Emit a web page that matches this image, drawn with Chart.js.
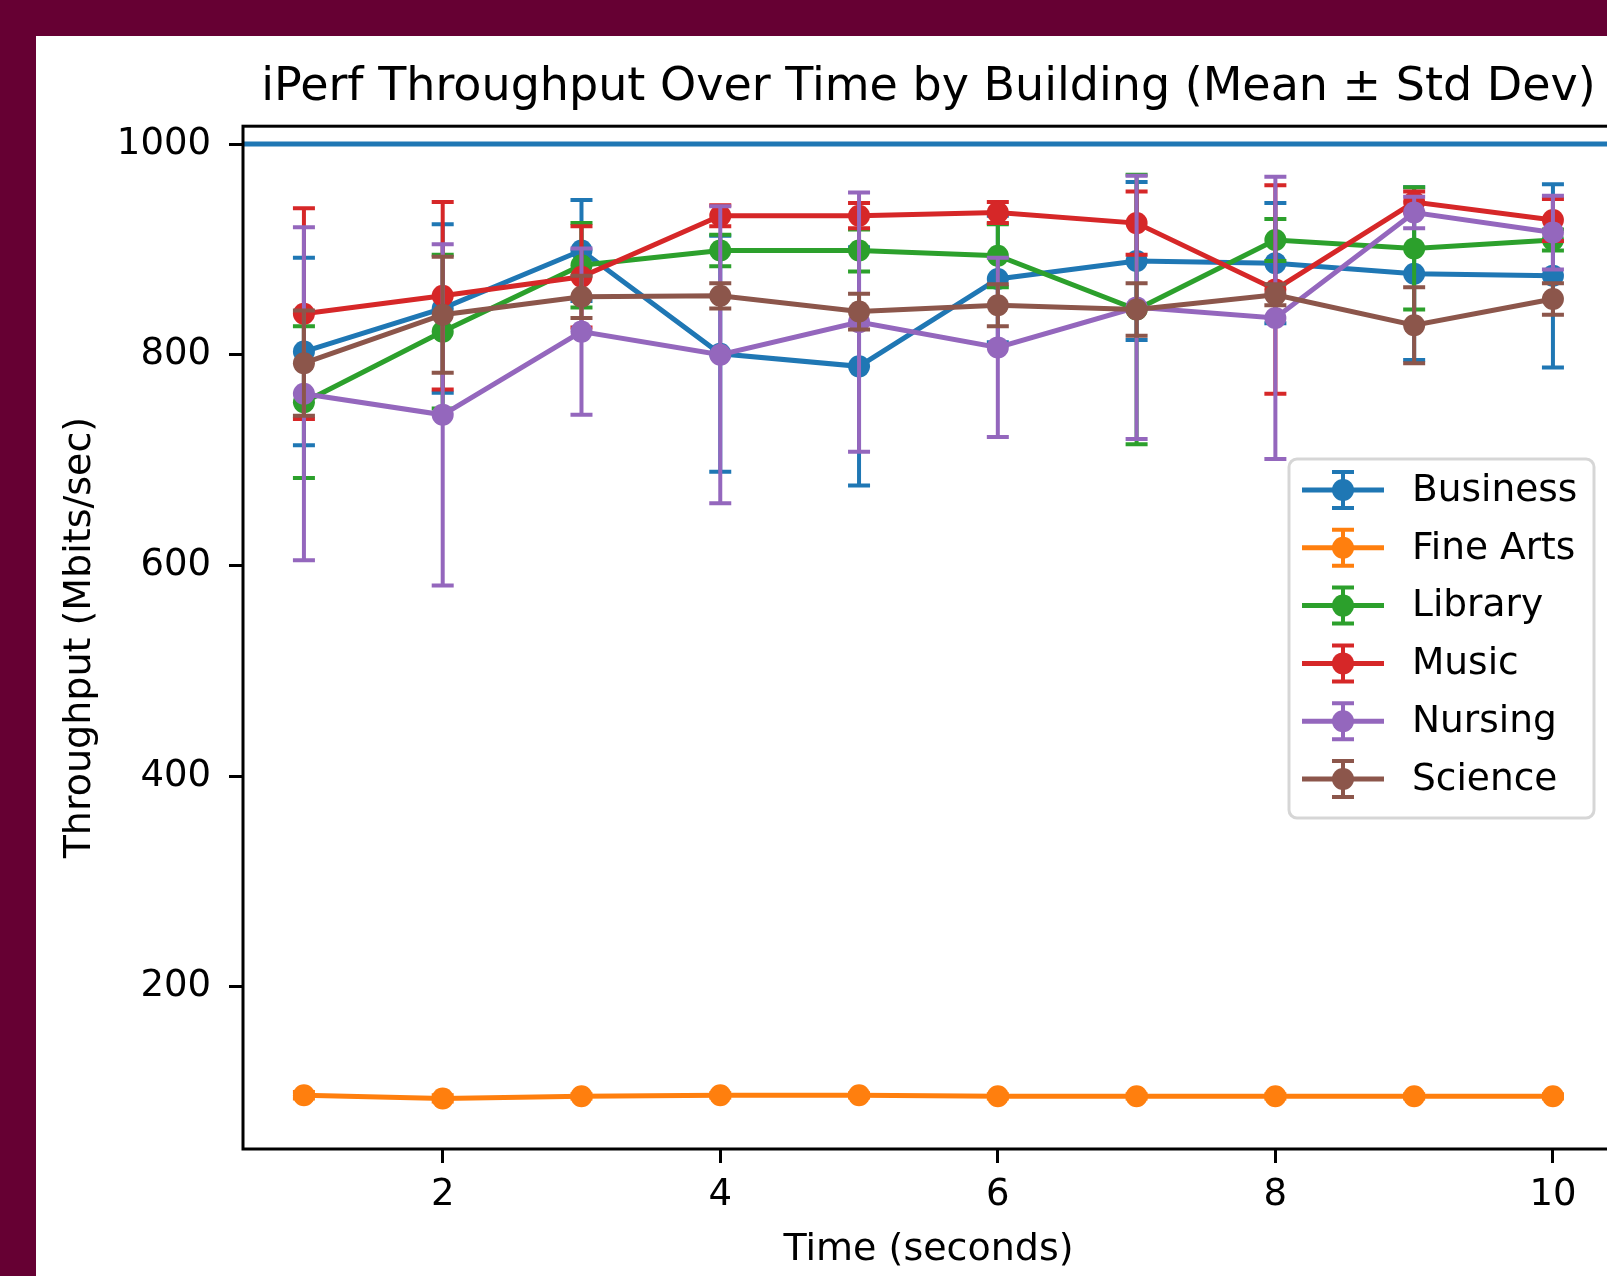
<!DOCTYPE html>
<html>
<head>
<meta charset="utf-8">
<script src="https://cdn.jsdelivr.net/npm/chart.js@4.4.1/dist/chart.umd.min.js"></script>
<style>
  html, body { margin: 0; padding: 0; background: #660033; overflow: hidden; }
  .panel { position: absolute; left: 36px; top: 36px; width: 1600px; height: 1240px; background: #ffffff; }
  canvas { display: block; }
</style>
</head>
<body>
<div class="panel"><canvas id="chart" width="1600" height="1240"></canvas></div>
<script>
const times = [1, 2, 3, 4, 5, 6, 7, 8, 9, 10];
const xTicks = [2, 4, 6, 8, 10];
const yTicks = [200, 400, 600, 800, 1000];
const refLine = 1000;

const buildings = ['Business', 'Fine Arts', 'Library', 'Music', 'Nursing', 'Science'];
const colors = ['#1f77b4', '#ff7f0e', '#2ca02c', '#d62728', '#9467bd', '#8c564b'];

const business = [803, 844, 899, 801, 789, 872, 889, 887, 877, 875];
const businessStd = [89, 80, 48, 112, 113, 60, 75, 57, 82, 87];
const fineArts = [97, 94, 96, 97, 97, 96, 96, 96, 96, 96];
const fineArtsStd = [3, 3, 2, 2, 2, 2, 2, 2, 2, 2];
const library = [755, 822, 885, 899, 899, 894, 843, 909, 901, 909];
const libraryStd = [72, 73, 40, 15, 20, 30, 128, 20, 58, 10];
const music = [839, 856, 874, 932, 932, 935, 925, 862, 945, 928];
const musicStd = [100, 89, 48, 10, 12, 10, 30, 99, 10, 20];
const nursing = [763, 743, 822, 800, 831, 807, 845, 835, 935, 916];
const nursingStd = [158, 162, 79, 141, 123, 85, 125, 134, 15, 35];
const science = [792, 838, 855, 856, 841, 847, 843, 857, 828, 853];
const scienceStd = [50, 55, 20, 12, 17, 20, 25, 10, 36, 15];

const means = [business, fineArts, library, music, nursing, science];
const stds = [businessStd, fineArtsStd, libraryStd, musicStd, nursingStd, scienceStd];

const FONT = 'DejaVu Sans';
const LW = 5;
const CAP = 11;

const datasets = buildings.map((name, i) => ({
  label: name,
  data: times.map((t, k) => ({ x: t, y: means[i][k] })),
  borderColor: colors[i],
  backgroundColor: colors[i],
  borderWidth: LW,
  pointRadius: 11,
  pointBorderWidth: 0,
  pointBackgroundColor: colors[i],
  tension: 0,
  order: -i, // later series on top, like matplotlib
}));

// error bars drawn right before each series, so its markers sit on top
const errorBars = {
  id: 'errorBars',
  beforeDatasetDraw(chart, args) {
    const i = args.index;
    const { ctx, scales: { x, y } } = chart;
    const area = chart.chartArea;
    ctx.save();
    ctx.beginPath();
    ctx.rect(area.left, area.top, area.right - area.left, area.bottom - area.top);
    ctx.clip();
    ctx.strokeStyle = colors[i];
    ctx.lineWidth = 4;
    times.forEach((t, k) => {
      const px = x.getPixelForValue(t);
      const hi = y.getPixelForValue(means[i][k] + stds[i][k]);
      const lo = y.getPixelForValue(means[i][k] - stds[i][k]);
      ctx.beginPath();
      ctx.moveTo(px, hi); ctx.lineTo(px, lo);
      ctx.moveTo(px - CAP, hi); ctx.lineTo(px + CAP, hi);
      ctx.moveTo(px - CAP, lo); ctx.lineTo(px + CAP, lo);
      ctx.stroke();
    });
    ctx.restore();
  },
};

// horizontal reference line at 1000
const refLinePlugin = {
  id: 'refLine',
  beforeDatasetsDraw(chart) {
    const { ctx, chartArea: a, scales: { y } } = chart;
    const py = y.getPixelForValue(refLine);
    ctx.save();
    ctx.strokeStyle = colors[0];
    ctx.lineWidth = 5;
    ctx.beginPath();
    ctx.moveTo(a.left, py); ctx.lineTo(a.right, py);
    ctx.stroke();
    ctx.restore();
  },
};

// full box frame + in-axes legend
const frameAndLegend = {
  id: 'frameAndLegend',
  afterDraw(chart) {
    const { ctx, chartArea: a } = chart;
    ctx.save();
    ctx.strokeStyle = '#000';
    ctx.lineWidth = 3;
    ctx.strokeRect(a.left, a.top, a.right - a.left, a.bottom - a.top);

    // legend box
    const bx = 1253, by = 423, bw = 305, bh = 359;
    ctx.fillStyle = 'rgba(255,255,255,0.8)';
    ctx.strokeStyle = 'rgba(204,204,204,0.8)';
    ctx.lineWidth = 3;
    ctx.beginPath();
    ctx.roundRect(bx, by, bw, bh, 8);
    ctx.fill();
    ctx.stroke();

    ctx.font = `37.5px "${FONT}"`;
    ctx.textBaseline = 'middle';
    ctx.textAlign = 'left';
    buildings.forEach((name, i) => {
      const cy = 454 + i * 57.8;
      const hx0 = 1266, hx1 = 1348, hc = 1307;
      ctx.strokeStyle = colors[i];
      ctx.lineWidth = LW;
      ctx.beginPath();
      ctx.moveTo(hx0, cy); ctx.lineTo(hx1, cy);
      ctx.stroke();
      ctx.lineWidth = 4;
      ctx.beginPath();
      ctx.moveTo(hc, cy - 18); ctx.lineTo(hc, cy + 18);
      ctx.moveTo(hc - CAP, cy - 18); ctx.lineTo(hc + CAP, cy - 18);
      ctx.moveTo(hc - CAP, cy + 18); ctx.lineTo(hc + CAP, cy + 18);
      ctx.stroke();
      ctx.fillStyle = colors[i];
      ctx.beginPath();
      ctx.arc(hc, cy, 11, 0, Math.PI * 2);
      ctx.fill();
      ctx.fillStyle = '#000';
      ctx.fillText(name, 1376, cy + 1);
    });
    ctx.restore();
  },
};

new Chart(document.getElementById('chart'), {
  type: 'line',
  data: { datasets },
  plugins: [refLinePlugin, errorBars, frameAndLegend],
  options: {
    responsive: false,
    devicePixelRatio: 1,
    animation: false,
    layout: { padding: { left: 0, right: 22, top: 0, bottom: 0 } },
    plugins: {
      legend: { display: false },
      tooltip: { enabled: false },
      title: {
        display: true,
        text: 'iPerf Throughput Over Time by Building (Mean ± Std Dev)',
        color: '#000',
        fullSize: false,
        font: { family: FONT, size: 46, weight: 'normal' },
        padding: { top: 24, bottom: 11 },
      },
    },
    scales: {
      x: {
        type: 'linear',
        min: 0.561,
        max: 10.44,
        afterFit(scale) { scale.height = 127; },
        afterBuildTicks(scale) { scale.ticks = xTicks.map(v => ({ value: v })); },
        border: { display: false },
        grid: { drawOnChartArea: false, drawTicks: true, tickLength: 14, tickColor: '#000', tickWidth: 3 },
        ticks: {
          autoSkip: false,
          maxRotation: 0,
          padding: 10,
          color: '#000',
          font: { family: FONT, size: 37 },
          callback: v => String(v),
        },
        title: {
          display: true,
          text: 'Time (seconds)',
          color: '#000',
          font: { family: FONT, size: 38 },
          padding: { top: 0, bottom: 3 },
        },
      },
      y: {
        type: 'linear',
        min: 46,
        max: 1017,
        afterFit(scale) { scale.width = 207; },
        afterBuildTicks(scale) { scale.ticks = yTicks.map(v => ({ value: v })); },
        border: { display: false },
        grid: { drawOnChartArea: false, drawTicks: true, tickLength: 14, tickColor: '#000', tickWidth: 3 },
        ticks: {
          autoSkip: false,
          padding: 18,
          color: '#000',
          font: { family: FONT, size: 37 },
          callback: v => String(v),
        },
        title: {
          display: true,
          text: 'Throughput (Mbits/sec)',
          color: '#000',
          font: { family: FONT, size: 38 },
          padding: { top: 21, bottom: 0 },
        },
      },
    },
  },
});
</script>
</body>
</html>
